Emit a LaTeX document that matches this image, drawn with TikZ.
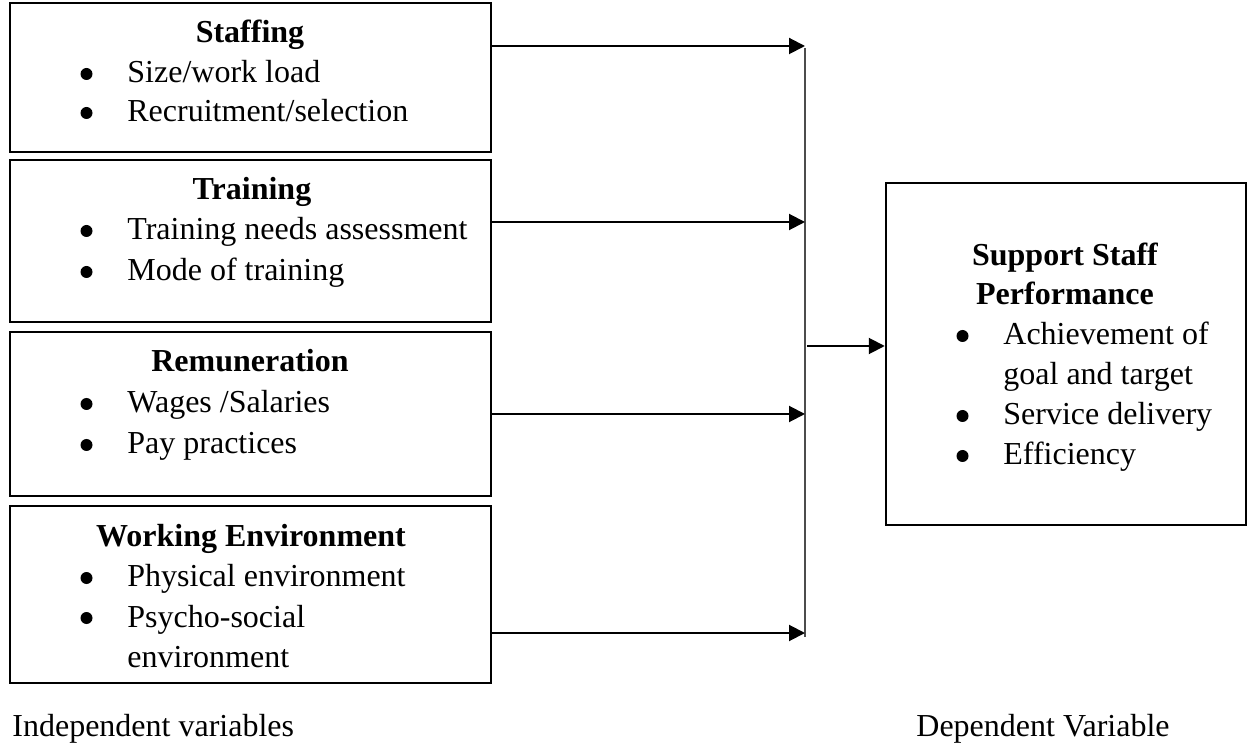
\documentclass[tikz,border=0pt]{standalone}
\usepackage{fontspec}
\setmainfont{Liberation Serif}
\usetikzlibrary{arrows.meta}
\begin{document}
\begin{tikzpicture}[x=0.5pt,y=-0.5pt,
  box/.style={draw=black,line width=1.25pt,inner sep=0pt,rectangle},
  txt/.style={inner sep=0pt,anchor=base west,font=\fontsize{16}{19}\selectfont},
  head/.style={inner sep=0pt,anchor=base,font=\fontsize{16}{19}\selectfont\bfseries},
  bul/.style={circle,fill=black,inner sep=0pt,minimum size=6pt,yshift=4.5pt},
  arr/.style={line width=1pt,-{Triangle[length=8pt,width=8pt]}},
  vline/.style={line width=0.8pt,draw=black!70}]
\useasboundingbox (0,0) rectangle (1248,748);
% boxes
\node[box,minimum width=240.5pt,minimum height=74.5pt] (staff) at (250.5,77.5) {};
\node[box,minimum width=240.5pt,minimum height=81pt] (train) at (250.5,241) {};
\node[box,minimum width=240.5pt,minimum height=82pt] (remu) at (250.5,414) {};
\node[box,minimum width=240.5pt,minimum height=88.5pt] (work) at (250.5,594.5) {};
\node[box,minimum width=180pt,minimum height=171pt] (perf) at (1066,354) {};
% staffing text
\node[head] (h1) at (250,43) {Staffing};
\node[bul] (b11) at (86.5,83) {};
\node[txt] (t11) at (127,83) {Size/work load};
\node[bul] (b12) at (86.5,122) {};
\node[txt] (t12) at (127,122) {Recruitment/selection};
% training text
\node[head] (h2) at (252,200) {Training};
\node[bul] (b21) at (86.5,240) {};
\node[txt] (t21) at (127,240) {Training needs assessment};
\node[bul] (b22) at (86.5,281) {};
\node[txt] (t22) at (127,281) {Mode of training};
% remuneration text
\node[head] (h3) at (250,372) {Remuneration};
\node[bul] (b31) at (86.5,413) {};
\node[txt] (t31) at (127,413) {Wages /Salaries};
\node[bul] (b32) at (86.5,454) {};
\node[txt] (t32) at (127,454) {Pay practices};
% working environment text
\node[head] (h4) at (251,546) {Working Environment};
\node[bul] (b41) at (86.5,587) {};
\node[txt] (t41) at (127,587) {Physical environment};
\node[bul] (b42) at (86.5,627) {};
\node[txt] (t42) at (127,627) {Psycho-social};
\node[txt] (t43) at (127,667) {environment};
% performance text
\node[head] (h5) at (1065,266) {Support Staff};
\node[head] (h6) at (1065,305) {Performance};
\node[bul] (b51) at (962.5,345) {};
\node[txt] (t51) at (1003,345) {Achievement of};
\node[txt] (t52) at (1003,385) {goal and target};
\node[bul] (b53) at (962.5,425) {};
\node[txt] (t53) at (1003,425) {Service delivery};
\node[bul] (b54) at (962.5,465) {};
\node[txt] (t54) at (1003,465) {Efficiency};
% bottom labels
\node[txt] (lind) at (12,736) {Independent variables};
\node[txt] (ldep) at (916,736) {Dependent Variable};
% connectors
\coordinate (vtop) at (805,48);
\coordinate (vbot) at (805,637);
\coordinate (v1) at (805,46);
\coordinate (v2) at (805,222);
\coordinate (v3) at (805,414);
\coordinate (v4) at (805,633);
\coordinate (m) at (807,346);
\draw[vline] (vtop) -- (vbot);
\draw[arr] (staff.east |- v1) -- (v1);
\draw[arr] (train.east |- v2) -- (v2);
\draw[arr] (remu.east |- v3) -- (v3);
\draw[arr] (work.east |- v4) -- (v4);
\draw[arr] (m) -- (m -| perf.west);
\end{tikzpicture}
\end{document}
